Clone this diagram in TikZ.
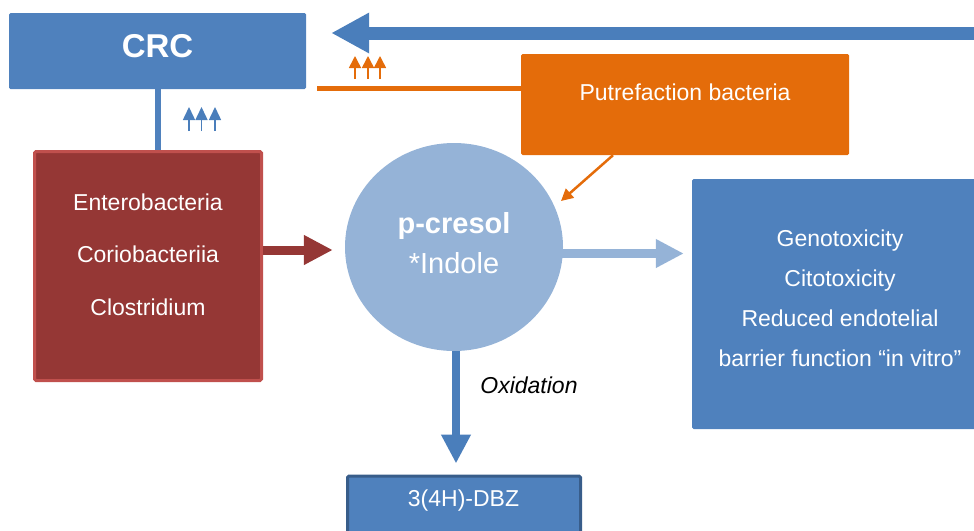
\documentclass[tikz,border=0pt]{standalone}
\usepackage{fontspec}
\setmainfont{Liberation Sans}
\usetikzlibrary{arrows.meta,shapes.geometric,calc}
\definecolor{crcblue}{HTML}{4F81BD}
\definecolor{darkblue}{HTML}{385D8A}
\definecolor{arrblue}{HTML}{4A7EBB}
\definecolor{lightblue}{HTML}{95B3D7}
\definecolor{bred}{HTML}{953735}
\definecolor{bredline}{HTML}{C0504D}
\definecolor{orangeb}{HTML}{E46C0A}
\begin{document}
\begin{tikzpicture}[x=1pt,y=-1pt,
  bluebox/.style={fill=crcblue, draw=none, rounded corners=1.5pt, inner sep=0pt},
  redbox/.style={fill=bred, draw=bredline, line width=3pt, rounded corners=1.5pt, inner sep=0pt},
  orbox/.style={fill=orangeb, draw=none, rounded corners=1.5pt, inner sep=0pt},
  dbzbox/.style={fill=crcblue, draw=darkblue, line width=3pt, rounded corners=1.5pt, inner sep=0pt},
  wtxt/.style={text=white, inner sep=0pt, anchor=base, font=\fontsize{23}{27}\selectfont},
  fatarrow/.style={line width=#1},
  bigtip/.style={-{Triangle[length=38pt,width=38pt]}},
  midtip/.style={-{Triangle[length=29pt,width=28pt]}},
  smalltip/.style={-{Triangle[length=12pt,width=12pt]}},
]
\useasboundingbox (0,0) rectangle (974,530);
\clip (0,0) rectangle (974,530);

% boxes
\node[bluebox, minimum width=297pt, minimum height=76pt] (crc) at (157.5,51) {};
\node[wtxt, font=\bfseries\fontsize{33}{36}\selectfont] (crct) at (157.5,57) {CRC};

\node[redbox, minimum width=227pt, minimum height=229pt] (red) at (148,266) {};
\node[wtxt] (r1) at (148,210) {Enterobacteria};
\node[wtxt] (r2) at (148,262.5) {Coriobacteriia};
\node[wtxt] (r3) at (148,315) {Clostridium};

\node[orbox, minimum width=328pt, minimum height=101pt] (putref) at (685,104.5) {};
\node[wtxt] (pt) at (685,100) {Putrefaction bacteria};

\node[ellipse, fill=lightblue, draw=none, minimum width=218pt, minimum height=208pt, inner sep=0pt] (circ) at (454,247) {};
\node[wtxt, font=\bfseries\fontsize{29}{33}\selectfont] (c1) at (454,233) {p-cresol};
\node[wtxt, font=\fontsize{29}{33}\selectfont] (c2) at (454,273) {*Indole};

\node[bluebox, minimum width=296pt, minimum height=250pt] (rbox) at (840,304) {};
\node[wtxt] (g1) at (840,246) {Genotoxicity};
\node[wtxt] (g2) at (840,286) {Citotoxicity};
\node[wtxt] (g3) at (840,326) {Reduced endotelial};
\node[wtxt] (g4) at (840,366) {barrier function “in vitro”};

\node[dbzbox, minimum width=233pt, minimum height=70pt, anchor=north] (dbz) at (464,474.5) {};
\node[wtxt] (dt) at (463.5,506) {3(4H)-DBZ};

\node[inner sep=0pt, anchor=base, font=\itshape\fontsize{23}{27}\selectfont] (ox) at (529,393) {Oxidation};

% coordinates
\coordinate (topstart) at (995,33);
\coordinate (oline) at (317,88);
\coordinate (otip) at (561,201);

% connectors
\draw[arrblue, fatarrow=13pt, bigtip, shorten >=25pt] (topstart) -- (topstart -| crc.east);
\draw[orangeb, line width=5pt] (putref.west |- oline) -- (oline);
\draw[crcblue, line width=6pt] (crc.south) -- (crc.south |- red.north);
\draw[bred, fatarrow=9pt, midtip, shorten >=12pt] ([yshift=16pt]red.east) -- ([yshift=16pt]red.east -| circ.west);
\draw[lightblue, fatarrow=9pt, -{Triangle[length=28pt,width=27pt]}, shorten >=8pt] ([xshift=-3pt,yshift=-6.5pt]circ.east) -- ([yshift=-6.5pt]circ.east -| rbox.west);
\draw[arrblue, fatarrow=8pt, midtip, shorten >=11pt] ([xshift=2pt]circ.south) -- ([xshift=2pt]circ.south |- dbz.north);
\draw[orangeb, line width=2.5pt, smalltip] ([xshift=-72pt]putref.south) -- (otip);

% small triple arrows
\foreach \x in {355,368,380}
  \draw[orangeb, line width=1.5pt, smalltip] (\x,79) -- (\x,56);
\foreach \x in {189,201.5,215}
  \draw[arrblue, line width=1.5pt, -{Triangle[length=13pt,width=12pt]}] (\x,131) -- (\x,107);
\end{tikzpicture}
\end{document}
